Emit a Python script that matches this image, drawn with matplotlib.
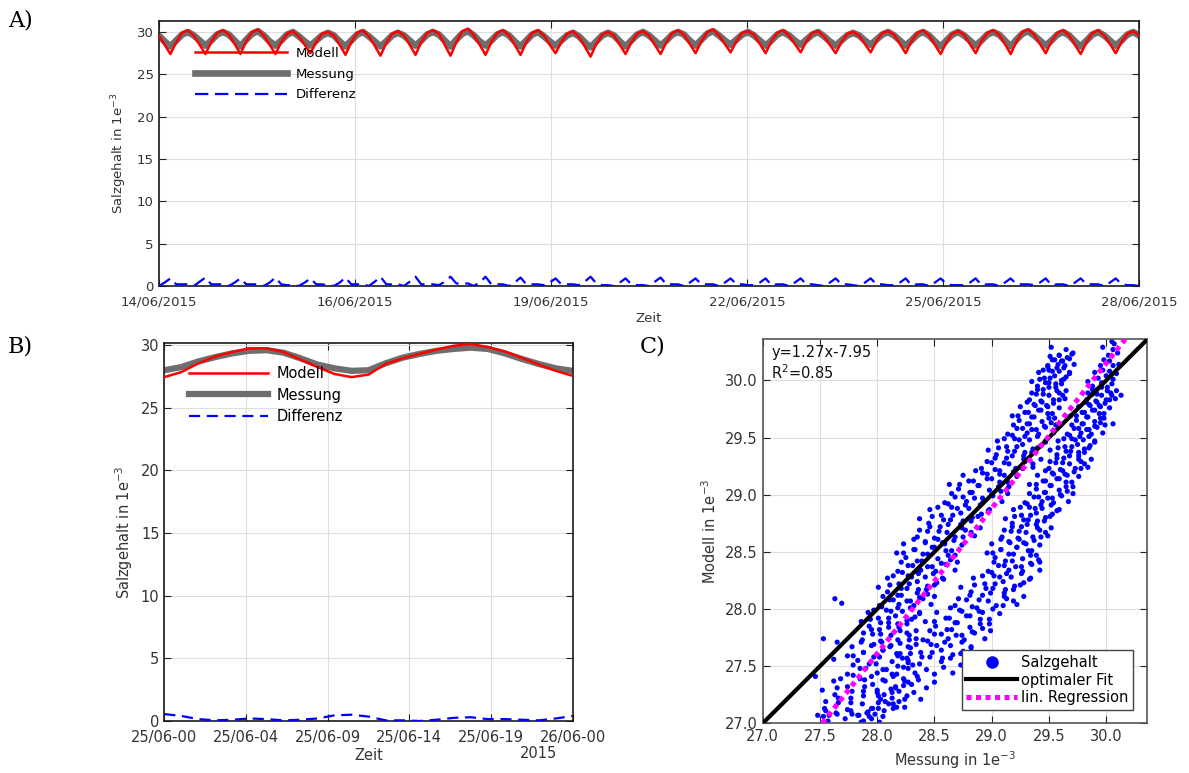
import numpy as np
import matplotlib
matplotlib.use("Agg")
import matplotlib.pyplot as plt
from matplotlib.lines import Line2D

plt.rcParams['font.family'] = ['DejaVu Sans']

# ---------------- Panel A: salinity, 2-hourly samples over 14 days ----------------
modell_A = [
    29.6, 28.5, 27.4, 28.8, 29.9, 30.2,
    29.6, 28.5, 27.4, 28.8, 29.9, 30.2,
    29.7, 28.6, 27.4, 28.9, 30.0, 30.3,
    29.6, 28.5, 27.4, 28.8, 29.8, 30.1,
    29.5, 28.5, 27.5, 28.8, 29.8, 30.0,
    29.6, 28.5, 27.3, 28.8, 29.9, 30.2,
    29.5, 28.4, 27.2, 28.7, 29.8, 30.1,
    29.6, 28.5, 27.3, 28.8, 29.9, 30.2,
    29.8, 28.5, 27.2, 28.8, 30.1, 30.4,
    29.6, 28.5, 27.3, 28.8, 29.9, 30.2,
    29.6, 28.5, 27.3, 28.8, 29.9, 30.2,
    29.6, 28.5, 27.5, 28.8, 29.8, 30.1,
    29.4, 28.3, 27.1, 28.6, 29.7, 30.0,
    29.6, 28.5, 27.4, 28.8, 29.8, 30.1,
    29.6, 28.5, 27.4, 28.8, 29.9, 30.2,
    29.7, 28.6, 27.5, 28.9, 30.0, 30.3,
    29.6, 28.6, 27.6, 28.9, 29.9, 30.1,
    29.7, 28.6, 27.5, 28.9, 29.9, 30.2,
    29.6, 28.6, 27.6, 28.9, 29.9, 30.1,
    29.5, 28.5, 27.5, 28.8, 29.8, 30.0,
    29.6, 28.6, 27.6, 28.9, 29.9, 30.1,
    29.7, 28.6, 27.5, 28.9, 29.9, 30.2,
    29.6, 28.5, 27.4, 28.8, 29.8, 30.1,
    29.7, 28.6, 27.5, 28.9, 29.9, 30.2,
    29.7, 28.6, 27.4, 28.9, 30.0, 30.3,
    29.7, 28.6, 27.5, 28.9, 29.9, 30.2,
    29.6, 28.5, 27.4, 28.8, 29.9, 30.2,
    29.6, 28.6, 27.5, 28.8, 29.8, 30.1,
    29.6]
messung_A = [
    29.6, 28.9, 28.3, 29.0, 29.7, 30.0,
    29.6, 29.0, 28.4, 29.0, 29.7, 30.0,
    29.7, 29.0, 28.3, 29.1, 29.8, 30.1,
    29.6, 28.9, 28.4, 29.0, 29.7, 30.0,
    29.5, 28.9, 28.4, 29.0, 29.6, 29.9,
    29.6, 28.9, 28.3, 29.0, 29.7, 30.0,
    29.5, 28.9, 28.3, 28.9, 29.6, 29.9,
    29.6, 29.0, 28.4, 29.0, 29.7, 30.0,
    29.7, 29.0, 28.3, 29.1, 29.8, 30.1,
    29.6, 28.9, 28.4, 29.0, 29.7, 30.0,
    29.6, 28.9, 28.3, 29.0, 29.7, 30.0,
    29.5, 28.9, 28.4, 29.0, 29.6, 29.9,
    29.5, 28.8, 28.2, 28.9, 29.6, 29.9,
    29.6, 28.9, 28.3, 29.0, 29.7, 30.0,
    29.6, 29.0, 28.4, 29.0, 29.7, 30.0,
    29.7, 29.0, 28.4, 29.1, 29.8, 30.1,
    29.6, 29.0, 28.5, 29.1, 29.7, 30.0,
    29.6, 29.0, 28.4, 29.0, 29.7, 30.0,
    29.6, 29.0, 28.5, 29.1, 29.7, 30.0,
    29.5, 28.9, 28.4, 29.0, 29.6, 29.9,
    29.6, 29.0, 28.5, 29.1, 29.7, 30.0,
    29.6, 29.0, 28.4, 29.0, 29.7, 30.0,
    29.6, 28.9, 28.3, 29.0, 29.7, 30.0,
    29.6, 29.0, 28.4, 29.0, 29.7, 30.0,
    29.7, 29.0, 28.3, 29.1, 29.8, 30.1,
    29.6, 29.0, 28.4, 29.0, 29.7, 30.0,
    29.6, 28.9, 28.3, 29.0, 29.7, 30.0,
    29.6, 29.0, 28.4, 29.0, 29.7, 30.0,
    29.6]
A_step_hours = 2.0
A_tick_labels = ['14/06/2015', '16/06/2015', '19/06/2015',
                 '22/06/2015', '25/06/2015', '28/06/2015']

# ---------------- Panel B: one day, hourly ----------------
modell_B = [27.45, 27.85, 28.55, 29.1, 29.45, 29.75, 29.75, 29.45, 28.85, 28.25,
            27.7, 27.45, 27.65, 28.5, 28.95, 29.3, 29.65, 29.95, 30.1, 29.85,
            29.5, 29.0, 28.45, 27.95, 27.55]
messung_B = [28.0, 28.25, 28.7, 29.05, 29.35, 29.55, 29.6, 29.4, 28.95, 28.45,
             28.15, 27.95, 28.0, 28.55, 29.0, 29.3, 29.55, 29.7, 29.8, 29.7,
             29.35, 28.9, 28.5, 28.15, 27.95]
B_tick_labels = ['25/06-00', '25/06-04', '25/06-09', '25/06-14', '25/06-19', '26/06-00']

# ---------------- Panel C: (Messung, Modell) pairs, hundredths above 27.00 ----------------
band_upper_h = [
    48,7, 57,2, 64,9, 72,4, 78,8, 86,1, 93,6,
    54,13, 66,18, 77,11, 87,17, 96,13, 107,19, 117,14,
    52,29, 63,25, 77,22, 88,28, 101,24, 113,27, 124,21,
    62,37, 74,32, 85,39, 96,34, 105,38, 116,31, 127,36,
    74,43, 85,48, 95,41, 105,47, 113,43, 123,49, 133,44,
    74,59, 83,55, 93,52, 102,58, 113,54, 122,57, 131,51,
    78,67, 88,62, 97,69, 105,64, 112,68, 120,61, 129,66,
    87,73, 96,78, 104,71, 112,77, 118,73, 126,79, 134,74,
    86,89, 93,85, 102,82, 110,88, 119,84, 126,87, 134,81,
    92,97, 101,92, 108,99, 116,94, 122,98, 130,91, 137,96,
    102,103, 111,108, 118,101, 126,107, 132,103, 140,109, 147,104,
    101,119, 109,115, 118,112, 126,118, 135,114, 143,117, 150,111,
    109,127, 119,122, 127,129, 135,124, 142,128, 150,121, 158,126,
    118,133, 127,138, 136,131, 144,137, 151,133, 160,139, 168,134,
    117,149, 125,145, 135,142, 144,148, 153,144, 162,147, 170,141,
    123,157, 133,152, 142,159, 150,154, 157,158, 165,151, 174,156,
    135,163, 144,168, 153,161, 161,167, 168,163, 177,169, 185,164,
    137,179, 145,175, 155,172, 164,178, 173,174, 182,177, 190,171,
    146,187, 156,182, 165,189, 173,184, 180,188, 188,181, 197,186,
    159,193, 168,198, 177,191, 185,197, 192,193, 201,199, 209,194,
    163,209, 171,205, 181,202, 189,208, 198,204, 206,207, 214,201,
    175,217, 184,212, 192,219, 200,214, 207,218, 214,211, 222,216,
    191,223, 200,228, 207,221, 215,227, 221,223, 229,229, 236,224,
    197,239, 204,235, 213,232, 220,238, 228,234, 235,237, 243,231,
    205,247, 213,242, 220,249, 227,244, 233,248, 240,241, 247,246,
    214,253, 222,258, 229,251, 235,257, 241,253, 247,259, 254,254,
    218,269, 224,265, 231,262, 237,268, 244,264, 250,267, 256,261,
    225,277, 232,272, 237,279, 243,274, 248,278, 253,271, 259,276,
    233,283, 239,288, 244,281, 250,287, 254,283, 259,289, 264,284,
    235,299, 240,295, 245,292, 250,298, 256,294, 261,297, 265,291,
    241,307, 246,302, 250,309, 255,304, 259,308, 263,301, 268,306,
    249,313, 253,318, 257,311, 261,317, 264,313, 268,319, 272,314,
    252,329, 259,322, 265,327, 271,324,
    55,11, 65,8, 74,12, 83,7, 92,10, 101,13,
    55,19, 66,22, 77,18, 88,24, 103,21, 114,17,
    65,31, 78,28, 89,32, 100,27, 112,30, 123,33,
    68,39, 79,42, 89,38, 100,44, 114,41, 124,37,
    79,51, 90,48, 99,52, 108,47, 118,50, 127,53,
    79,59, 88,62, 97,58, 105,64, 117,61, 126,57,
    86,71, 95,68, 103,72, 111,67, 120,70, 128,73,
    88,79, 95,82, 103,78, 110,84, 120,81, 128,77,
    94,91, 103,88, 110,92, 118,87, 126,90, 133,93,
    97,99, 104,102, 112,98, 119,104, 129,101, 137,97,
    105,111, 114,108, 121,112, 129,107, 137,110, 144,113,
    111,121, 121,118, 128,122, 136,117, 144,120, 152,123,
    114,129, 122,132, 130,128, 138,134, 149,131, 157,127,
    121,141, 131,138, 139,142, 148,137, 156,140, 164,143,
    123,149, 132,152, 140,148, 148,154, 160,151, 168,147,
    132,161, 142,158, 150,162, 159,157, 167,160, 175,163,
    137,169, 146,172, 154,168, 162,174, 174,171, 182,167,
    148,181, 158,178, 166,182, 175,177, 183,180, 191,183,
    153,189, 162,192, 170,188, 178,194, 190,191, 198,187,
    165,201, 175,198, 183,202, 192,197, 200,200, 208,203,
    172,209, 180,212, 188,208, 196,214, 207,211, 215,207,
    186,221, 196,218, 203,222, 211,217, 219,220, 227,223,
    196,229, 203,232, 211,228, 218,234, 228,231, 236,227,
    206,241, 214,238, 222,242, 229,237, 236,240, 243,243,
    211,249, 218,252, 224,248, 231,254, 240,251, 247,247,
    219,261, 227,258, 233,262, 239,257, 246,260, 252,263,
    223,269, 229,272, 235,268, 241,274, 249,271, 255,267,
    231,281, 238,278, 243,282, 249,277, 254,280, 259,283,
    235,289, 240,292, 245,288, 250,294, 257,291, 262,287,
    242,301, 247,298, 251,302, 256,297, 261,300, 265,303,
    245,309, 249,312, 253,308, 258,314, 263,311, 268,307,
    251,321, 255,318, 259,322, 262,317, 266,320, 270,323,
]
band_lower_h = [
    84,7, 88,2, 91,9, 95,4, 98,8, 102,1, 105,6,
    95,13, 101,18, 106,11, 110,17, 114,13, 119,19, 124,14,
    100,29, 106,25, 113,22, 119,28, 126,24, 132,27, 138,21,
    107,37, 116,32, 123,39, 130,34, 136,38, 143,31, 150,36,
    117,43, 127,48, 135,41, 143,47, 150,43, 158,49, 166,44,
    118,59, 127,55, 137,52, 146,58, 156,54, 164,57, 173,51,
    127,67, 138,62, 147,69, 156,64, 164,68, 173,61, 182,66,
    140,73, 150,78, 159,71, 169,77, 176,73, 185,79, 194,74,
    142,89, 151,85, 161,82, 170,88, 181,84, 190,87, 199,81,
    152,97, 163,92, 172,99, 181,94, 189,98, 198,91, 207,96,
    168,103, 178,108, 187,101, 197,107, 204,103, 213,109, 222,104,
    173,119, 182,115, 192,112, 201,118, 211,114, 219,117, 228,111,
    184,127, 194,122, 202,129, 210,124, 217,128, 225,121, 233,126,
    197,133, 206,138, 213,131, 221,137, 227,133, 235,139, 242,134,
    196,149, 203,145, 212,142, 219,148, 227,144, 234,147, 242,141,
    200,157, 208,152, 215,159, 222,154, 228,158, 235,151, 242,156,
    209,163, 217,168, 224,161, 230,167, 236,163, 242,169, 249,164,
    212,179, 218,175, 226,172, 232,178, 239,174, 246,177, 252,171,
    219,187, 226,182, 233,189, 239,184, 244,188, 251,181, 257,186,
    229,193, 237,198, 243,191, 249,197, 254,193, 261,199, 267,194,
    233,209, 239,205, 246,202, 252,208, 259,204, 265,207, 271,201,
    240,217, 247,212, 253,219, 259,214, 264,218, 270,211, 276,216,
    250,223, 256,228, 262,221, 268,227, 273,223, 278,229, 284,224,
    251,239, 257,235, 263,232, 269,238, 276,234, 281,237, 287,231,
    258,247, 264,242, 270,249, 275,244, 280,248, 285,241, 290,246,
    266,253, 272,258, 277,251, 283,257, 287,253, 292,259, 297,254,
    269,269, 274,265, 279,262, 284,268, 290,264, 295,267, 299,261,
    276,277, 281,272, 285,279, 290,274, 294,278, 298,271, 303,276,
    283,283, 288,288, 292,281, 296,287, 300,283, 304,289, 308,284,
    284,299, 288,295, 292,292, 296,298, 301,294, 305,297, 309,291,
    290,307, 293,302, 297,309, 300,304, 303,308, 306,301, 309,306,
    295,313, 298,318, 303,317, 306,313, 311,314,
    297,329, 302,322, 306,327, 310,324,
    305,334, 307,332,
    129,61, 139,58, 148,62, 157,57, 166,60, 175,63,
    134,69, 144,72, 152,68, 162,74, 174,71, 182,67,
    146,81, 156,78, 165,82, 174,77, 183,80, 192,83,
    150,89, 160,92, 168,88, 178,94, 190,91, 198,87,
    164,101, 174,98, 183,102, 192,97, 201,100, 210,103,
    171,109, 181,112, 189,108, 199,114, 211,111, 219,107,
    185,121, 195,118, 203,122, 212,117, 220,120, 228,123,
    192,129, 200,132, 207,128, 215,134, 226,131, 234,127,
    202,141, 211,138, 218,142, 226,137, 234,140, 241,143,
    201,149, 208,152, 215,148, 222,154, 232,151, 239,147,
    208,161, 216,158, 223,162, 230,157, 237,160, 243,163,
    211,169, 218,172, 224,168, 231,174, 240,171, 247,167,
    220,181, 228,178, 234,182, 240,177, 247,180, 253,183,
    225,189, 231,192, 238,188, 244,194, 252,191, 259,187,
    233,201, 241,198, 247,202, 253,197, 260,200, 266,203,
    239,209, 245,212, 251,208, 257,214, 265,211, 271,207,
    247,221, 254,218, 260,222, 266,217, 272,220, 278,223,
    251,229, 257,232, 262,228, 268,234, 276,231, 281,227,
    258,241, 265,238, 270,242, 276,237, 281,240, 286,243,
    263,249, 268,252, 273,248, 278,254, 285,251, 290,247,
    270,261, 276,258, 280,262, 285,257, 290,260, 295,263,
    274,269, 279,272, 283,268, 288,274, 294,271, 298,267,
    282,281, 286,278, 291,282, 295,277, 299,280, 303,283,
    284,289, 288,292, 292,288, 296,294, 301,291, 305,287,
]
outliers_h = [63,109, 69,105, 46,41, 53,74, 65,71, 62,56, 53,6, 58,7,
              313,287, 306,262, 190,52, 197,62, 186,40, 205,58]
fit_slope = 1.27
fit_intercept = -7.95
r_squared = 0.85

# ---------------- drawing ----------------
TXT = '#333333'
fig = plt.figure(figsize=(11.89, 7.73), dpi=100)


def style(ax, fs, spine_col='#1a1a1a', xpad=5.5):
    ax.tick_params(direction='in', top=True, right=True, length=5, width=0.8,
                   colors='#222222', labelcolor=TXT, labelsize=fs)
    ax.tick_params(axis='x', pad=xpad)
    ax.grid(True, color='#dedede', lw=0.8)
    ax.set_axisbelow(True)
    for s in ax.spines.values():
        s.set_color(spine_col)
        s.set_linewidth(1.2)


# ---- A ----
axA = fig.add_axes([0.1335, 0.630, 0.8245, 0.3428])
mA = np.array(modell_A)
gA = np.array(messung_A)
tA = np.arange(len(mA)) * A_step_hours
hM, = axA.plot(tA, gA, color='#6e6e6e', lw=4.8, solid_joinstyle='round', zorder=2)
hR, = axA.plot(tA, mA, color='#ff0000', lw=1.8, zorder=3)
hD, = axA.plot(tA, np.abs(mA - gA), color='#0000ff', lw=1.6, ls=(0, (6, 3)), zorder=3)
axA.set_xlim(tA[0], tA[-1])
axA.set_ylim(0, 31.3)
axA.set_xticks(np.linspace(tA[0], tA[-1], len(A_tick_labels)))
axA.set_xticklabels(A_tick_labels)
axA.set_yticks([0, 5, 10, 15, 20, 25, 30])
style(axA, 9.5, xpad=6.5)
axA.set_xlabel('Zeit', fontsize=9.5, color=TXT, labelpad=3)
axA.set_ylabel('Salzgehalt in 1e$^{-3}$', fontsize=9.5, color=TXT, labelpad=6)
axA.legend([hR, hM, hD], ['Modell', 'Messung', 'Differenz'], loc='upper left',
           bbox_to_anchor=(0.037, 0.902), frameon=False, fontsize=9.5,
           handlelength=7, handletextpad=0.6, labelspacing=0.58,
           borderpad=0, borderaxespad=0)

# ---- B ----
axB = fig.add_axes([0.1382, 0.0673, 0.3435, 0.4886])
mB = np.array(modell_B)
gB = np.array(messung_B)
tB = np.arange(len(mB)) * 1.0
hMB, = axB.plot(tB, gB, color='#6e6e6e', lw=4.5, solid_joinstyle='round', zorder=2)
hRB, = axB.plot(tB, mB, color='#ff0000', lw=1.8, zorder=3)
hDB, = axB.plot(tB, np.abs(mB - gB), color='#0000ff', lw=1.6, ls=(0, (5, 3)), zorder=3)
axB.set_xlim(tB[0], tB[-1])
axB.set_ylim(0, 30.15)
axB.set_xticks(np.linspace(tB[0], tB[-1], len(B_tick_labels)))
axB.set_xticklabels(B_tick_labels)
axB.set_yticks([0, 5, 10, 15, 20, 25, 30])
style(axB, 10.5, xpad=6.5)
axB.set_xlabel('Zeit', fontsize=10.5, color=TXT, labelpad=2)
axB.set_ylabel('Salzgehalt in 1e$^{-3}$', fontsize=10.5, color=TXT)
axB.text(0.915, -0.085, '2015', transform=axB.transAxes, ha='center', va='center',
         fontsize=10.5, color=TXT)
axB.legend([hRB, hMB, hDB], ['Modell', 'Messung', 'Differenz'], loc='upper left',
           bbox_to_anchor=(0.06, 0.94), frameon=False, fontsize=10.5,
           handlelength=5.4, handletextpad=0.6, labelspacing=0.45,
           borderpad=0, borderaxespad=0)

# ---- C ----
axC = fig.add_axes([0.6415, 0.0643, 0.3235, 0.4968])
pts = np.vstack([np.array(band_upper_h).reshape(-1, 2),
                 np.array(band_lower_h).reshape(-1, 2),
                 np.array(outliers_h).reshape(-1, 2)])
xs = 27.0 + pts[:, 0] / 100.0
ys = 27.0 + pts[:, 1] / 100.0
axC.scatter(xs, ys, s=14, c='#0000ff', edgecolors='none', zorder=2)
lim = np.array([27.0, 30.36])
axC.plot(lim, lim, color='black', lw=3, zorder=3, solid_capstyle='butt')
xr = (lim - fit_intercept) / fit_slope
axC.plot(xr, lim, color='#ff00ff', lw=3.6, ls=(0, (1, 0.9)), zorder=4)
axC.set_xlim(lim)
axC.set_ylim(lim)
cticks = [27.0, 27.5, 28.0, 28.5, 29.0, 29.5, 30.0]
axC.set_xticks(cticks)
axC.set_yticks(cticks)
axC.set_xticklabels(['%.1f' % v for v in cticks])
axC.set_yticklabels(['%.1f' % v for v in cticks])
style(axC, 10.5, spine_col='#555555', xpad=4)
axC.set_xlabel('Messung in 1e$^{-3}$', fontsize=10.5, color=TXT)
axC.set_ylabel('Modell in 1e$^{-3}$', fontsize=10.5, color=TXT)
axC.text(0.022, 0.965, 'y=%.2fx%.2f' % (fit_slope, fit_intercept), transform=axC.transAxes,
         ha='left', va='center', fontsize=10.5, color='#111111')
axC.text(0.022, 0.912, 'R$^2$=%.2f' % r_squared, transform=axC.transAxes,
         ha='left', va='center', fontsize=10.5, color='#111111')
legC_handles = [Line2D([], [], marker='o', ls='none', color='#0000ff', markersize=8),
                Line2D([], [], color='black', lw=3),
                Line2D([], [], color='#ff00ff', lw=3.6, ls=(0, (1, 0.9)))]
legC = axC.legend(legC_handles, ['Salzgehalt', 'optimaler Fit', 'lin. Regression'],
                  loc='lower right', bbox_to_anchor=(0.963, 0.035), borderaxespad=0,
                  fontsize=10.5, handlelength=3.5, handletextpad=0.3, borderpad=0.3,
                  labelspacing=0.2, fancybox=False, framealpha=1)
legC.get_frame().set_edgecolor('#444444')
legC.get_frame().set_linewidth(1.0)

# ---- panel letters ----
fig.text(8 / 1189, 1 - 21 / 773, 'A)', fontsize=16, family='DejaVu Serif', va='center', ha='left')
fig.text(8 / 1189, 1 - 347 / 773, 'B)', fontsize=16, family='DejaVu Serif', va='center', ha='left')
fig.text(640 / 1189, 1 - 347 / 773, 'C)', fontsize=16, family='DejaVu Serif', va='center', ha='left')

fig.savefig('out.png', dpi=100)
